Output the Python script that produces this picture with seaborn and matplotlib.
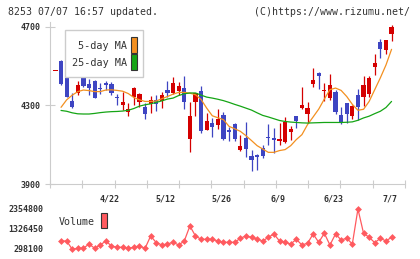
import numpy as np
import pandas as pd
import matplotlib
matplotlib.use("Agg")
import matplotlib.pyplot as plt
from matplotlib.patches import Rectangle
import seaborn as sns

nan = np.nan
opens = [4475, 4528, 4441, 4320, 4365, 4452, 4408, 4425, 4387, 4413, 4408, 4342, 4300, 4264, 4345, 4315,
         4294, 4308, 4328, 4320, 4379, 4362, 4375, 4388, 4129, 4315, 4374, 4176, 4210, 4202, 4252,
         4173, 4207, 4075, 4135, 4044, 4049, 4083, 4140, 4135, 4117, 4114, 4163, 4247, 4289, 4257,
         4410, 4464, 4374, 4337, 4370, 4252, 4312, 4244, 4354, 4345, 4359, 4497, 4621, 4582, 4663]
highs = [4475, 4532, 4445, 4365, 4425, 4464, 4433, 4428, 4413, 4426, 4418, 4357, 4367, 4312, 4392, 4365,
         4312, 4349, 4354, 4367, 4425, 4443, 4421, 4450, 4315, 4365, 4399, 4261, 4236, 4283, 4266,
         4188, 4210, 4151, 4216, 4075, 4053, 4100, 4206, 4185, 4210, 4241, 4193, 4247, 4391, 4315,
         4492, 4469, 4413, 4460, 4379, 4291, 4312, 4303, 4384, 4450, 4447, 4562, 4638, 4633, 4709]
lows = [4475, 4405, 4340, 4289, 4354, 4391, 4354, 4335, 4357, 4376, 4354, 4300, 4274, 4244, 4300, 4294,
        4232, 4261, 4269, 4289, 4342, 4357, 4354, 4281, 4061, 4247, 4160, 4173, 4137, 4180, 4126,
        4117, 4117, 4066, 4036, 3965, 3970, 4033, 4100, 4058, 4100, 4109, 4126, 4185, 4283, 4210,
        4391, 4384, 4320, 4328, 4257, 4205, 4210, 4231, 4227, 4298, 4345, 4455, 4543, 4560, 4629]
closes = [4475, 4408, 4345, 4294, 4404, 4401, 4386, 4337, 4382, 4404, 4365, 4338, 4318, 4283, 4389, 4359,
          4256, 4325, 4306, 4354, 4365, 4413, 4399, 4315, 4247, 4362, 4168, 4222, 4188, 4232, 4131,
          4163, 4131, 4095, 4078, 4024, 4038, 4041, 4135, 4126, 4131, 4214, 4181, 4218, 4303, 4286,
          4430, 4447, 4378, 4404, 4264, 4213, 4257, 4298, 4294, 4404, 4441, 4518, 4587, 4633, 4700]
ma5 = [nan, 4290, 4328, 4352, 4370, 4378, 4375, 4370, 4370, 4378, 4379, 4376, 4372, 4360, 4340, 4328,
       4320, 4320, 4322, 4334, 4345, 4357, 4366, 4366, 4362, 4354, 4330, 4286, 4247, 4237, 4227,
       4193, 4181, 4168, 4146, 4121, 4095, 4078, 4061, 4061, 4070, 4075, 4095, 4126, 4151, 4202,
       4241, 4281, 4332, 4380, 4388, 4376, 4345, 4305, 4275, 4280, 4320, 4380, 4440, 4505, 4585]
ma25 = [nan, 4274, 4270, 4262, 4257, 4256, 4256, 4259, 4263, 4266, 4268, 4269, 4271, 4275, 4284, 4296,
        4303, 4308, 4315, 4323, 4332, 4337, 4350, 4359, 4363, 4363, 4352, 4342, 4337, 4331, 4324,
        4315, 4305, 4296, 4286, 4276, 4262, 4249, 4241, 4232, 4223, 4218, 4215, 4213, 4211, 4210,
        4211, 4212, 4213, 4213, 4213, 4213, 4214, 4216, 4224, 4236, 4245, 4258, 4270, 4289, 4320]
volume = [nan, 709000, 709000, 283000, 334000, 334000, 555000, 334000, 504000, 709000, 452000, 385000,
          385000, 334000, 385000, 452000, 334000, 967000, 624000, 504000, 555000, 641000, 504000,
          709000, 1481000, 967000, 796000, 796000, 796000, 709000, 641000, 641000, 641000, 848000,
          967000, 899000, 812000, 709000, 899000, 1069000, 709000, 641000, 555000, 796000, 504000,
          590000, 1069000, 641000, 1105000, 504000, 1069000, 761000, 848000, 555000, 2354800,
          1105000, 899000, 624000, 848000, 709000, 899000]
date_labels = ["4/22", "5/12", "5/26", "6/9", "6/23", "7/7"]
date_index = [10, 20, 30, 40, 50, 60]
price_ticks = [3900, 4300, 4700]
volume_ticks = [298100, 1326450, 2354800]

RED = "#d40000"
BLUE = "#3e45c2"
ORANGE = "#f39020"
GREEN = "#15a515"
VOL = "#ff5a5f"
GRID = "#cccccc"
TXT = "#333333"

sns.set_theme(style="white")
plt.rcParams["font.family"] = ["DejaVu Sans Mono", "DejaVu Sans"]

W, H = 420, 259
fig = plt.figure(figsize=(W / 100, H / 100), dpi=100)
fig.patch.set_facecolor("white")

def fx(x):
    return x / W

def fy(y):
    return 1 - y / H

ax = fig.add_axes([fx(50), fy(184), fx(355), 162 / H])
axv = fig.add_axes([fx(50), fy(253), fx(355), 48 / H])

df = pd.DataFrame({"i": np.arange(len(opens)), "open": opens, "high": highs, "low": lows,
                   "close": closes, "ma5": ma5, "ma25": ma25, "volume": volume})
df["up"] = df["close"] >= df["open"]
df["color"] = np.where(df["up"], RED, BLUE)
df["body_lo"] = df[["open", "close"]].min(axis=1)
df["body_h"] = (df["close"] - df["open"]).abs().clip(lower=5)

# wicks and bodies
ax.vlines(df["i"], df["low"], df["high"], colors=df["color"], lw=0.9, zorder=2)
ax.bar(df["i"], df["body_h"], bottom=df["body_lo"], width=0.75, color=df["color"],
       linewidth=0, zorder=3)

# moving averages
d5 = df.dropna(subset=["ma5"])
d25 = df.dropna(subset=["ma25"])
sns.lineplot(data=d5, x="i", y="ma5", ax=ax, color=ORANGE, lw=0.9, zorder=4)
sns.lineplot(data=d25, x="i", y="ma25", ax=ax, color=GREEN, lw=0.9, zorder=4)

xlim = (-0.97, 62.4)
ax.set_xlim(*xlim)
ax.set_ylim(3900, 4724)
ax.set_xlabel("")
ax.set_ylabel("")
ax.set_yticks(price_ticks)
ax.set_yticklabels([str(t) for t in price_ticks], fontsize=6, color=TXT, fontweight="bold")
ax.set_xticks([d - 0.35 for d in date_index])
ax.set_xticklabels(date_labels, fontsize=6, color=TXT, fontweight="bold")
ax.set_xticks(np.linspace(xlim[0], xlim[1], 12), minor=True)
ax.tick_params(axis="x", which="major", length=0, pad=7.5)
ax.tick_params(axis="x", which="minor", direction="inout", length=6, width=0.8, color=GRID, bottom=True)
ax.tick_params(axis="y", direction="inout", length=7.2, width=0.8, color=GRID, pad=3.5, left=True)
for s in ["top", "right"]:
    ax.spines[s].set_visible(False)
for s in ["left", "bottom"]:
    ax.spines[s].set_color(GRID)
    ax.spines[s].set_linewidth(0.8)
ax.set_facecolor("white")

# volume
dv = df.dropna(subset=["volume"])
sns.lineplot(data=dv, x="i", y="volume", ax=axv, color=VOL, lw=0.9, marker="D",
             markersize=3.5, markeredgewidth=0, markerfacecolor=VOL)
axv.set_xlim(*xlim)
axv.set_ylim(92000, 2560000)
axv.set_xticks([])
axv.set_yticks(volume_ticks)
axv.set_yticklabels([str(t) for t in volume_ticks], fontsize=6, color=TXT, fontweight="bold")
axv.tick_params(axis="y", length=0, pad=5)
axv.set_xlabel("")
axv.set_ylabel("")
for s in axv.spines.values():
    s.set_visible(False)
axv.set_facecolor("none")

# header texts
fig.text(fx(8), fy(12), "8253 07/07 16:57 updated.", fontsize=7.1, color=TXT, va="center", ha="left")
fig.text(fx(410), fy(12), "(C)https://www.rizumu.net/", fontsize=7.1, color=TXT, va="center", ha="right")

# MA legend
fig.add_artist(Rectangle((fx(65), fy(77)), fx(78), 47 / H, transform=fig.transFigure,
                         facecolor="white", edgecolor=GRID, lw=1, zorder=5))
fig.text(fx(127), fy(46), "5-day MA", fontsize=7.3, color=TXT, va="center", ha="right", zorder=6)
fig.text(fx(127), fy(62.5), "25-day MA", fontsize=7.3, color=TXT, va="center", ha="right", zorder=6)
fig.add_artist(Rectangle((fx(131), fy(53)), fx(6), 16 / H, transform=fig.transFigure,
                         facecolor=ORANGE, edgecolor="#333333", lw=0.8, zorder=6))
fig.add_artist(Rectangle((fx(131), fy(69.5)), fx(6), 15.5 / H, transform=fig.transFigure,
                         facecolor=GREEN, edgecolor="#333333", lw=0.8, zorder=6))

# volume legend
fig.text(fx(59), fy(222), "Volume", fontsize=7.2, color=TXT, va="center", ha="left", zorder=6)
fig.add_artist(Rectangle((fx(101), fy(228)), fx(6), 15 / H, transform=fig.transFigure,
                         facecolor=VOL, edgecolor="#333333", lw=0.8, zorder=6))

fig.savefig("out.png", dpi=100, facecolor="white")
